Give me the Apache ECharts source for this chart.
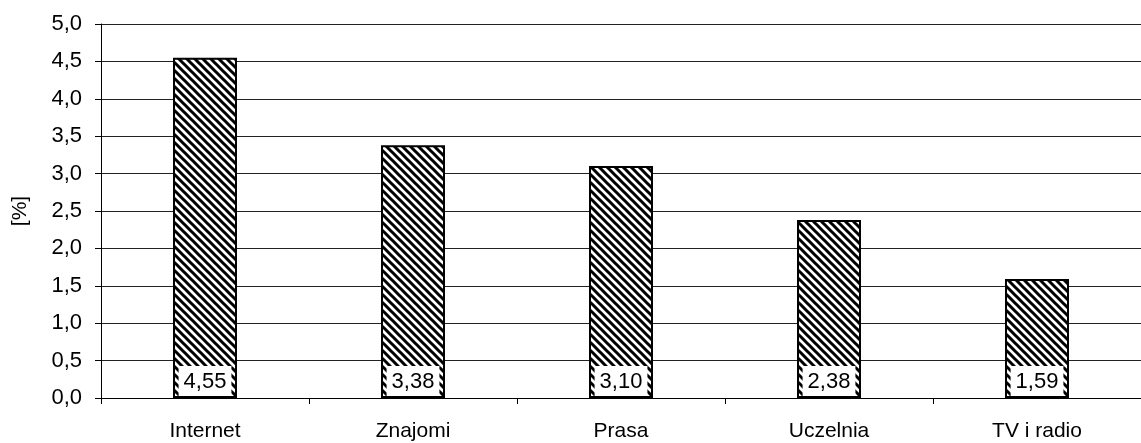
<!DOCTYPE html>
<html>
<head>
<meta charset="utf-8">
<script src="https://cdn.jsdelivr.net/npm/echarts@6/dist/echarts.min.js"></script>
<style>
  html, body { margin: 0; padding: 0; background: #fff; }
  #main { width: 1141px; height: 443px; }
</style>
</head>
<body>
<div id="main"></div>
<script>
var categories = ['Internet', 'Znajomi', 'Prasa', 'Uczelnia', 'TV i radio'];
var values = [4.55, 3.38, 3.10, 2.38, 1.59];
var yTicks = [0, 0.5, 1, 1.5, 2, 2.5, 3, 3.5, 4, 4.5, 5];

// hatch pattern \\\ black on white
function makeHatch() {
  var size = 8;
  var c = document.createElement('canvas');
  c.width = size; c.height = size;
  var ctx = c.getContext('2d');
  ctx.fillStyle = '#fff';
  ctx.fillRect(0, 0, size, size);
  ctx.strokeStyle = '#000';
  ctx.lineWidth = 3;
  ctx.beginPath();
  for (var k = -2; k <= 2; k++) {
    ctx.moveTo(-size, -size + k * size);
    ctx.lineTo(size * 2, size * 2 + k * size);
  }
  ctx.stroke();
  return c;
}

var chart = echarts.init(document.getElementById('main'), null, { renderer: 'canvas' });
var fontFam = 'Liberation Sans, Arial, sans-serif';
var option = {
  animation: false,
  grid: { left: 101, right: 0, top: 24, bottom: 45, containLabel: false, outerBoundsMode: 'none' },
  xAxis: {
    type: 'category',
    data: categories,
    axisLine: { lineStyle: { color: '#000', width: 1 } },
    axisTick: { show: true, length: 6, lineStyle: { color: '#000' } },
    axisLabel: { color: '#000', fontSize: 21, fontFamily: fontFam, margin: 23 }
  },
  yAxis: {
    type: 'value',
    min: yTicks[0],
    max: yTicks[yTicks.length - 1],
    interval: 0.5,
    name: '[%]',
    nameLocation: 'middle',
    nameGap: 70,
    nameRotate: 90,
    nameTextStyle: { color: '#000', fontSize: 21, fontFamily: fontFam },
    axisLine: { show: true, lineStyle: { color: '#000' } },
    axisTick: { show: true, length: 6, lineStyle: { color: '#000' } },
    splitLine: { lineStyle: { color: '#222', width: 1 } },
    axisLabel: {
      color: '#000', fontSize: 22, fontFamily: fontFam, margin: 19,
      formatter: function (v) { return v.toFixed(1).replace('.', ','); }
    }
  },
  series: [{
    type: 'bar',
    data: values,
    barWidth: 64,
    itemStyle: {
      color: { image: makeHatch(), repeat: 'repeat' },
      borderColor: '#000',
      borderWidth: 2
    },
    label: {
      show: true,
      position: 'insideBottom',
      distance: 2,
      color: '#000',
      fontSize: 22,
      fontFamily: fontFam,
      backgroundColor: '#fff',
      padding: [5, 5, 3, 5],
      formatter: function (p) { return p.value.toFixed(2).replace('.', ','); }
    }
  }]
};
chart.setOption(option);
</script>
</body>
</html>
